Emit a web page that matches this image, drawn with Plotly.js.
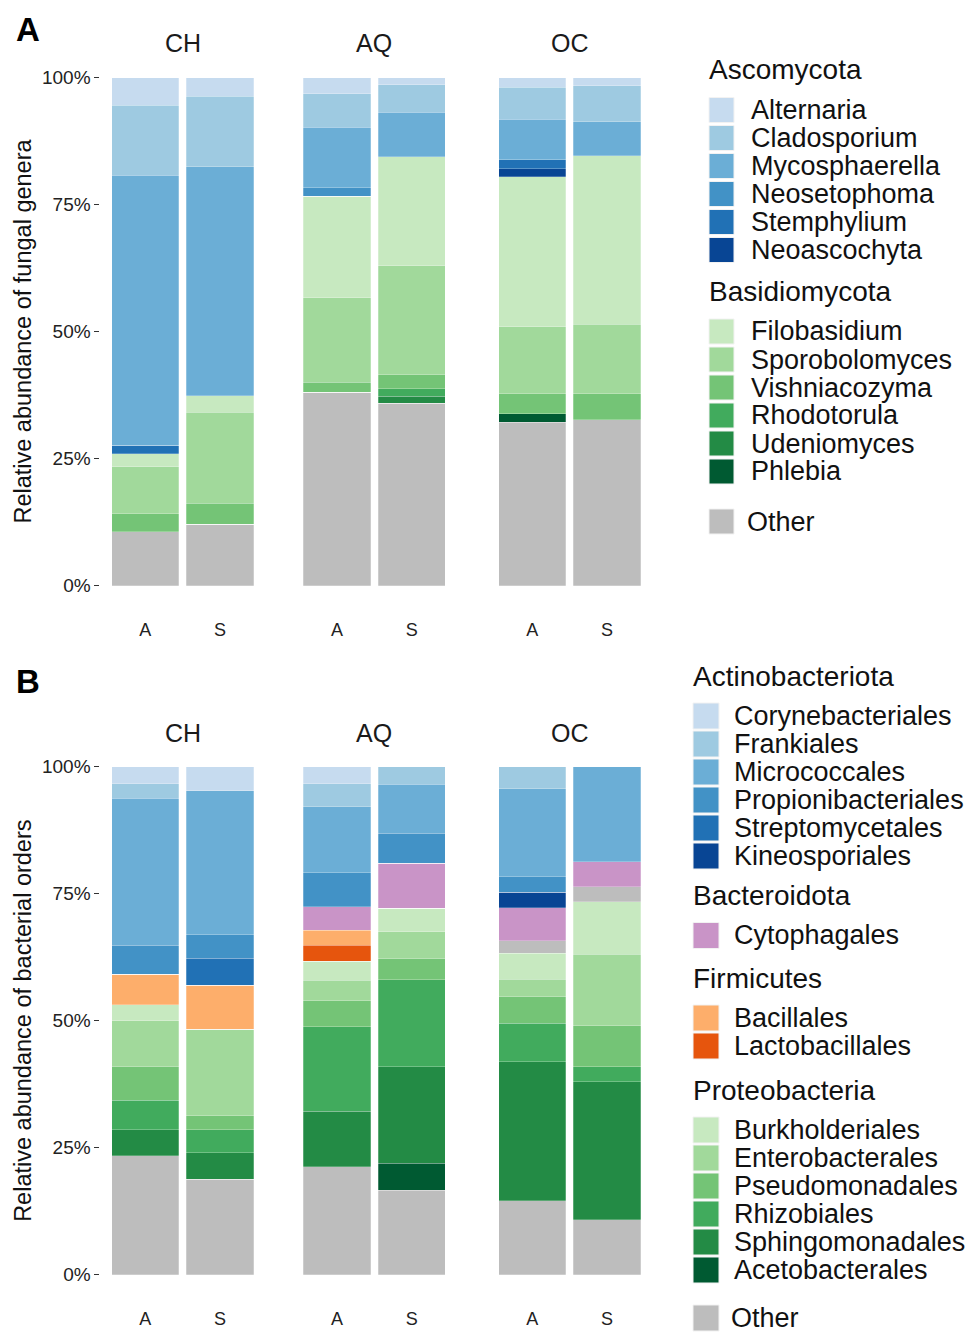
<!DOCTYPE html>
<html>
<head>
<meta charset="utf-8">
<script src="https://cdn.plot.ly/plotly-3.0.1.min.js"></script>
<style>html,body{margin:0;padding:0;background:#fff;}#chart{width:971px;height:1332px;}</style>
</head>
<body>
<div id="chart"></div>
<script>
// ---------- categories ----------
const sites = ['CH', 'AQ', 'OC'];
const samples = ['A', 'S'];
const yTickVals = [0, 25, 50, 75, 100];
const yTickText = ['0%', '25%', '50%', '75%', '100%'];
// values are percentages in order: CH-A, CH-S, AQ-A, AQ-S, OC-A, OC-S

// ---------- Panel A: fungal genera (stacked bottom -> top) ----------
const fOther          = [10.6, 12.1, 38.0, 35.9, 32.1, 32.6];
const fPhlebia        = [0, 0, 0, 0, 1.7, 0];
const fUdeniomyces    = [0, 0, 0, 1.4, 0, 0];
const fRhodotorula    = [0, 0, 0, 1.4, 0, 0];
const fVishniacozyma  = [3.5, 4.1, 2.0, 2.8, 3.9, 5.1];
const fSporobolomyces = [9.3, 17.9, 16.6, 21.4, 13.2, 13.7];
const fFilobasidium   = [2.5, 3.3, 20.0, 21.5, 29.6, 33.2];
const fNeoascochyta   = [0, 0, 0, 0, 1.5, 0];
const fStemphylium    = [1.6, 0, 0, 0, 1.8, 0];
const fNeosetophoma   = [0.1, 0, 1.7, 0, 0, 0];
const fMycosphaerella = [53.2, 45.0, 11.9, 8.8, 8.0, 6.7];
const fCladosporium   = [13.7, 13.9, 6.6, 5.4, 6.3, 7.1];
const fAlternaria     = [5.5, 3.7, 3.2, 1.4, 1.9, 1.6];

// ---------- Panel B: bacterial orders (stacked bottom -> top) ----------
const bOther              = [23.4, 18.8, 21.3, 16.6, 14.6, 10.8];
const bAcetobacterales    = [0, 0, 0, 5.3, 0, 0];
const bSphingomonadales   = [5.1, 5.2, 10.9, 19.0, 27.3, 27.2];
const bRhizobiales        = [5.8, 4.5, 16.6, 17.2, 7.6, 2.9];
const bPseudomonadales    = [6.6, 2.8, 5.1, 4.1, 5.2, 8.1];
const bEnterobacterales   = [9.1, 17.0, 4.1, 5.3, 3.5, 14.1];
const bBurkholderiales    = [3.1, 0, 3.7, 4.6, 5.1, 10.3];
const bOtherMid           = [0, 0, 0, 0, 2.4, 3.0];
const bLactobacillales    = [0, 0, 3.2, 0, 0, 0];
const bBacillales         = [6.0, 8.7, 2.9, 0, 0, 0];
const bCytophagales       = [0, 0, 4.6, 8.9, 6.5, 4.9];
const bKineosporiales     = [0, 0, 0, 0, 3.1, 0];
const bStreptomycetales   = [0, 5.3, 0, 0, 0, 0];
const bPropionibacteriales= [5.8, 4.6, 6.7, 5.9, 3.0, 0];
const bMicrococcales      = [28.9, 28.4, 13.0, 9.6, 17.4, 18.7];
const bFrankiales         = [2.8, 0, 4.5, 3.5, 4.3, 0];
const bCorynebacteriales  = [3.4, 4.7, 3.4, 0, 0, 0];

// ---------- legend labels ----------
const ascomycota = ['Alternaria', 'Cladosporium', 'Mycosphaerella', 'Neosetophoma', 'Stemphylium', 'Neoascochyta'];
const basidiomycota = ['Filobasidium', 'Sporobolomyces', 'Vishniacozyma', 'Rhodotorula', 'Udeniomyces', 'Phlebia'];
const actinobacteriota = ['Corynebacteriales', 'Frankiales', 'Micrococcales', 'Propionibacteriales', 'Streptomycetales', 'Kineosporiales'];
const bacteroidota = ['Cytophagales'];
const firmicutes = ['Bacillales', 'Lactobacillales'];
const proteobacteria = ['Burkholderiales', 'Enterobacterales', 'Pseudomonadales', 'Rhizobiales', 'Sphingomonadales', 'Acetobacterales'];

// ---------- colours ----------
const blues = ['#c6dbef', '#9ecae1', '#6baed6', '#4292c6', '#2171b5', '#084594'];
const greens = ['#c7e9c0', '#a1d99b', '#74c476', '#41ab5d', '#238b45', '#005a32'];
const purples = ['#c994c7'];
const oranges = ['#fdae6b', '#e6550d'];
const otherColor = '#bdbdbd';

// ---------- helpers ----------
const W = 971, H = 1332;
const px = v => v / W;
const py = v => 1 - v / H;
const FONT = 'Liberation Sans, Arial, Helvetica, sans-serif';

const fungiStack = [
  ['Other', fOther, otherColor],
  ['Phlebia', fPhlebia, greens[5]],
  ['Udeniomyces', fUdeniomyces, greens[4]],
  ['Rhodotorula', fRhodotorula, greens[3]],
  ['Vishniacozyma', fVishniacozyma, greens[2]],
  ['Sporobolomyces', fSporobolomyces, greens[1]],
  ['Filobasidium', fFilobasidium, greens[0]],
  ['Neoascochyta', fNeoascochyta, blues[5]],
  ['Stemphylium', fStemphylium, blues[4]],
  ['Neosetophoma', fNeosetophoma, blues[3]],
  ['Mycosphaerella', fMycosphaerella, blues[2]],
  ['Cladosporium', fCladosporium, blues[1]],
  ['Alternaria', fAlternaria, blues[0]]
];
const bactStack = [
  ['Other', bOther, otherColor],
  ['Acetobacterales', bAcetobacterales, greens[5]],
  ['Sphingomonadales', bSphingomonadales, greens[4]],
  ['Rhizobiales', bRhizobiales, greens[3]],
  ['Pseudomonadales', bPseudomonadales, greens[2]],
  ['Enterobacterales', bEnterobacterales, greens[1]],
  ['Burkholderiales', bBurkholderiales, greens[0]],
  ['Other', bOtherMid, otherColor],
  ['Lactobacillales', bLactobacillales, oranges[1]],
  ['Bacillales', bBacillales, oranges[0]],
  ['Cytophagales', bCytophagales, purples[0]],
  ['Kineosporiales', bKineosporiales, blues[5]],
  ['Streptomycetales', bStreptomycetales, blues[4]],
  ['Propionibacteriales', bPropionibacteriales, blues[3]],
  ['Micrococcales', bMicrococcales, blues[2]],
  ['Frankiales', bFrankiales, blues[1]],
  ['Corynebacteriales', bCorynebacteriales, blues[0]]
];

const traces = [];
function addPanel(stack, axOffset, yName) {
  stack.forEach(([name, vals, color]) => {
    sites.forEach((site, i) => {
      traces.push({
        type: 'bar',
        name: name,
        x: samples,
        y: [vals[2 * i], vals[2 * i + 1]],
        xaxis: 'x' + (axOffset + i === 1 ? '' : axOffset + i),
        yaxis: yName,
        marker: { color: color, line: { color: 'rgba(255,255,255,0.5)', width: 0.5 } },
        showlegend: false,
        hovertemplate: site + ' %{x}<br>' + name + ': %{y:.1f}%<extra></extra>'
      });
    });
  });
}
addPanel(fungiStack, 1, 'y');
addPanel(bactStack, 4, 'y2');

// panel geometry (px)
const panelLefts = [100.4, 292, 487.3];
const panelW = 164.6;
const tickFont = { family: FONT, size: 18, color: '#222' };
const yTickFont = { family: FONT, size: 19, color: '#222' };

const layout = {
  width: W, height: H,
  margin: { l: 0, r: 0, t: 0, b: 0 },
  paper_bgcolor: '#fff', plot_bgcolor: 'rgba(0,0,0,0)',
  barmode: 'stack', bargap: 0.1,
  font: { family: FONT, color: '#111' },
  showlegend: false,
  shapes: [], annotations: []
};

function xAxis(i, anchor) {
  return {
    domain: [px(panelLefts[i]), px(panelLefts[i] + panelW)],
    anchor: anchor, type: 'category', categoryorder: 'array', categoryarray: samples,
    range: [-0.6, 1.6], showgrid: false, zeroline: false, showline: false,
    ticks: '', ticklabelstandoff: 6, tickfont: tickFont, fixedrange: true
  };
}
layout.xaxis = xAxis(0, 'y');
layout.xaxis2 = xAxis(1, 'y');
layout.xaxis3 = xAxis(2, 'y');
layout.xaxis4 = xAxis(0, 'y2');
layout.xaxis5 = xAxis(1, 'y2');
layout.xaxis6 = xAxis(2, 'y2');

function yAxis(top, bottom, anchor, title) {
  return {
    domain: [py(bottom), py(top)], anchor: anchor,
    range: [-5, 105], tickmode: 'array', tickvals: yTickVals, ticktext: yTickText,
    showgrid: false, zeroline: false, showline: false,
    ticks: 'outside', ticklen: 5, tickwidth: 1, tickcolor: '#333',
    tickfont: yTickFont, fixedrange: true,
    title: { text: title, font: { family: FONT, size: 23.5, color: '#111' }, standoff: 3 }
  };
}
layout.yaxis = yAxis(52.1, 610.9, 'x', 'Relative abundance of fungal genera');
layout.yaxis2 = yAxis(741.3, 1300.1, 'x4', 'Relative abundance of bacterial orders');

// strip labels
sites.forEach((s, i) => {
  [43, 733].forEach(yy => {
    layout.annotations.push({
      text: s, xref: 'paper', yref: 'paper',
      x: px(panelLefts[i] + panelW / 2), y: py(yy),
      xanchor: 'center', yanchor: 'middle', showarrow: false,
      font: { family: FONT, size: 25, color: '#1a1a1a' }
    });
  });
});

// panel letters
[['A', 30], ['B', 681.5]].forEach(([t, yy]) => {
  layout.annotations.push({
    text: '<b>' + t + '</b>', xref: 'paper', yref: 'paper',
    x: px(27.5), y: py(yy), xanchor: 'center', yanchor: 'middle', showarrow: false,
    font: { family: FONT, size: 33, color: '#000' }
  });
});

// manual legends (large square keys like the reference)
function legendTitle(text, x, y) {
  layout.annotations.push({
    text: text, xref: 'paper', yref: 'paper', x: px(x), y: py(y),
    xanchor: 'left', yanchor: 'middle', showarrow: false,
    font: { family: FONT, size: 28, color: '#111' }
  });
}
function legendItems(names, colors, x0, sw, textX, y0) {
  names.forEach((n, k) => {
    const cy = y0 + 28 * k;
    layout.shapes.push({
      type: 'rect', xref: 'paper', yref: 'paper',
      x0: px(x0), x1: px(x0 + sw), y0: py(cy - sw / 2), y1: py(cy + sw / 2),
      fillcolor: colors[k], line: { color: '#f2f2f2', width: 1 }
    });
    layout.annotations.push({
      text: n, xref: 'paper', yref: 'paper', x: px(textX), y: py(cy),
      xanchor: 'left', yanchor: 'middle', showarrow: false,
      font: { family: FONT, size: 27, color: '#111' }
    });
  });
}
// Panel A legend
legendTitle('Ascomycota', 707, 70);
legendItems(ascomycota, blues, 709, 25, 749, 110);
legendTitle('Basidiomycota', 707, 291.5);
legendItems(basidiomycota, greens, 709, 25, 749, 331.5);
legendItems(['Other'], [otherColor], 709, 25, 745, 521.5);
// Panel B legend
legendTitle('Actinobacteriota', 691, 677);
legendItems(actinobacteriota, blues, 693, 26, 732, 716);
legendTitle('Bacteroidota', 691, 895);
legendItems(bacteroidota, purples, 693, 26, 732, 935.5);
legendTitle('Firmicutes', 691, 978);
legendItems(firmicutes, oranges, 693, 26, 732, 1018);
legendTitle('Proteobacteria', 691, 1090);
legendItems(proteobacteria, greens, 693, 26, 732, 1130);
legendItems(['Other'], [otherColor], 693, 26, 729, 1318);

Plotly.newPlot('chart', traces, layout, { displayModeBar: false, staticPlot: false });
</script>
</body>
</html>
